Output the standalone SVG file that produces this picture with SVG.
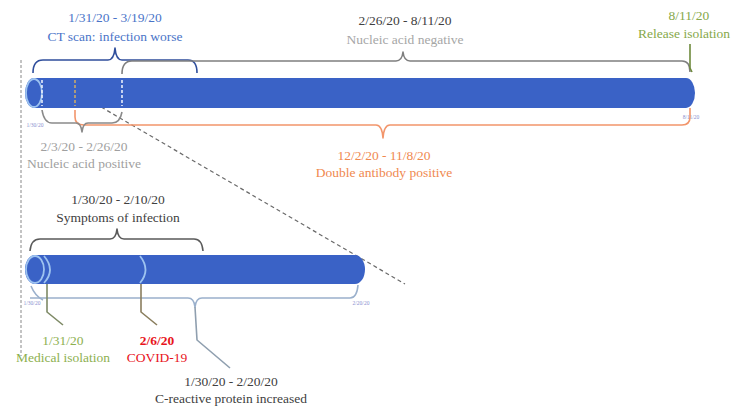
<svg xmlns="http://www.w3.org/2000/svg" width="735" height="406" viewBox="0 0 735 406">
<style>
text{font-family:"Liberation Serif","DejaVu Serif","Times New Roman",serif;font-size:13.5px;text-anchor:middle}
.bar{fill:#3A62C6}
.cap{fill:none;stroke:#9DC3F0;stroke-width:1.8}
.brace{fill:none;stroke-width:1.6;stroke-linejoin:round}
text.tiny{font-size:5.5px;fill:#8A8FD0}
</style>
<g id="guides">
<line x1="21" y1="60" x2="21" y2="356" stroke="#888" stroke-width="1" stroke-dasharray="3,2"/>
<line x1="77" y1="93" x2="405" y2="284" stroke="#6A6A6A" stroke-width="1.2" stroke-dasharray="4,3"/>
</g>
<g id="top-bar">
<rect class="bar" x="25" y="78" width="670" height="30" rx="9" ry="15"/>
<ellipse class="cap" cx="34" cy="93" rx="8" ry="14"/>
<line x1="42" y1="80" x2="42" y2="106" stroke="#E8EEFA" stroke-width="1.6" stroke-dasharray="3,2"/>
<line x1="75" y1="80" x2="75" y2="106" stroke="#C7A96B" stroke-width="1.6" stroke-dasharray="3,2"/>
<line x1="122" y1="80" x2="122" y2="106" stroke="#E8EEFA" stroke-width="1.6" stroke-dasharray="3,2"/>
<text class="tiny" x="35" y="127">1/30/20</text>
<text class="tiny" x="691" y="119">8/11/20</text>
</g>
<g id="bottom-bar">
<rect class="bar" x="25" y="255" width="340" height="29" rx="10" ry="14.5"/>
<ellipse class="cap" cx="35" cy="269.5" rx="9" ry="13.5"/>
<path class="cap" d="M44,256 Q56,270 44,283"/>
<path class="cap" d="M140,256 Q151,270 140,283"/>
<text class="tiny" x="32" y="305">1/30/20</text>
<text class="tiny" x="361" y="305">2/20/20</text>
</g>
<g id="connectors">
<path class="brace" stroke="#2F4E9C" d="M33,73 Q33,60 43,60 L108,60 Q114,60 115,48 Q116,60 122,60 L188,60 Q197,60 197,73"/>
<path class="brace" stroke="#7F7F7F" d="M122,74 Q122,61 132,61 L396,61 Q402,61 403,52 Q404,61 410,61 L682,61 Q690,61 690,72"/>
<path class="brace" stroke="#F2956B" stroke-width="2" d="M75,110 L75,117 Q75,125 84,125 L376,125 Q382,125 383,138 Q384,125 390,125 L682,125 Q690,125 690,117 L690,108"/>
<path class="brace" stroke="#8A8A8A" d="M42,110 Q44,123 52,123 L76,123 Q81,123 82,132 Q83,123 88,123 L112,123 Q120,123 122,112"/>
<path class="brace" stroke="#5A5A5A" d="M30,251 Q31,239 40,239 L110,239 Q116,239 117,229 Q118,239 124,239 L194,239 Q202,239 203,251"/>
<path class="brace" stroke="#9AB0CC" d="M30,298 L188,298 Q194,298 195,307 Q196,298 202,298 L350,298 Q357,298 358,285"/>
<path class="brace" stroke="#8F9FAF" d="M195,307 L197,340 L230,368"/>
<path class="brace" stroke="#6E8A3C" stroke-width="1.2" d="M690,44 L690,68 L692,72"/>
<path class="brace" stroke="#7E8A66" stroke-width="1.2" d="M47,284 L47,312 L63,325"/>
<path class="brace" stroke="#8A7E5E" stroke-width="1.2" d="M141,284 L141,312 L157,325"/>
<path class="brace" stroke="#9AB0CC" stroke-width="1" d="M31,286 Q35,296 43,300"/>
</g>
<g id="label-ct">
<text x="115" y="22" fill="#4A74C8">1/31/20 - 3/19/20</text>
<text x="115" y="41" fill="#4A74C8">CT scan: infection worse</text>
</g>
<g id="label-neg">
<text x="405" y="25" fill="#404040">2/26/20 - 8/11/20</text>
<text x="405" y="44" fill="#A6A6A6">Nucleic acid negative</text>
</g>
<g id="label-release">
<text x="689" y="20" fill="#86A84A">8/11/20</text>
<text x="684" y="38" fill="#86A84A">Release isolation</text>
</g>
<g id="label-pos">
<text x="84" y="151" fill="#A0A0A0">2/3/20 - 2/26/20</text>
<text x="84" y="168" fill="#A0A0A0">Nucleic acid positive</text>
</g>
<g id="label-antibody">
<text x="384" y="160" fill="#F0894F">12/2/20 - 11/8/20</text>
<text x="384" y="177" fill="#F0894F">Double antibody positive</text>
</g>
<g id="label-symptoms">
<text x="118" y="204" fill="#404040">1/30/20 - 2/10/20</text>
<text x="118" y="222" fill="#404040">Symptoms of infection</text>
</g>
<g id="label-isolation">
<text x="63" y="345" fill="#8DB04F">1/31/20</text>
<text x="63" y="362" fill="#8DB04F">Medical isolation</text>
</g>
<g id="label-covid">
<text x="157" y="345" fill="#E8141C" font-weight="bold">2/6/20</text>
<text x="157" y="362" fill="#E8141C">COVID-19</text>
</g>
<g id="label-crp">
<text x="231" y="386" fill="#404040">1/30/20 - 2/20/20</text>
<text x="231" y="403" fill="#404040">C-reactive protein increased</text>
</g>
</svg>
